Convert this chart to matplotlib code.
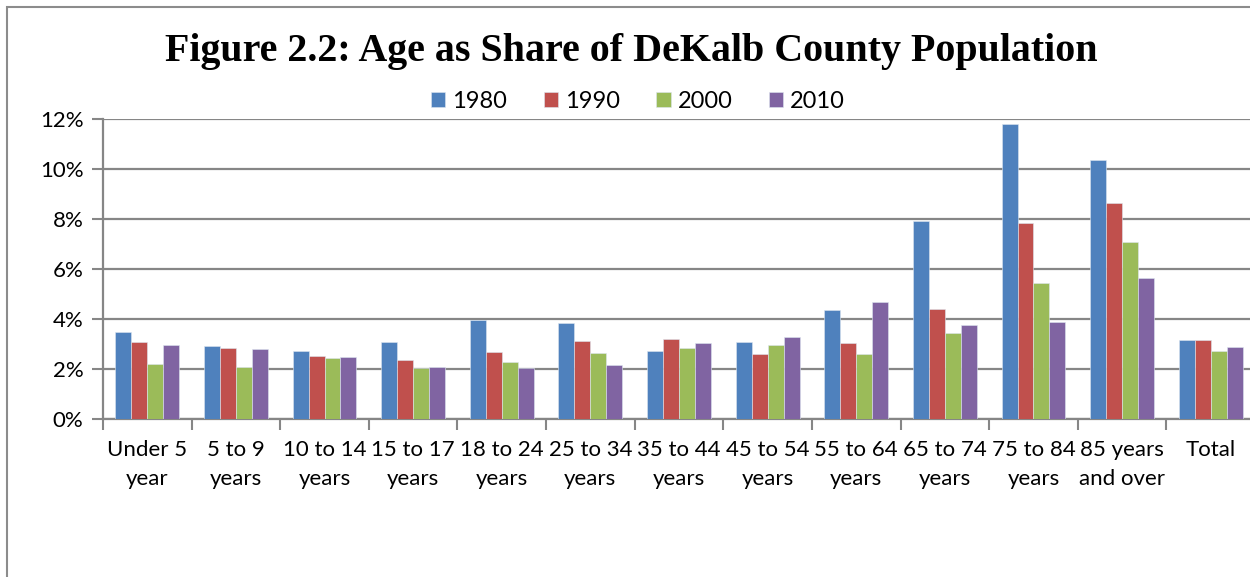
import matplotlib.pyplot as plt
import matplotlib.patches as patches
import numpy as np

categories = ["Under 5\nyear", "5 to 9\nyears", "10 to 14\nyears", "15 to 17\nyears",
              "18 to 24\nyears", "25 to 34\nyears", "35 to 44\nyears", "45 to 54\nyears",
              "55 to 64\nyears", "65 to 74\nyears", "75 to 84\nyears", "85 years\nand over",
              "Total"]
years = ["1980", "1990", "2000", "2010"]
v1980 = [3.47, 2.93, 2.71, 3.07, 3.95, 3.83, 2.71, 3.07, 4.35, 7.92, 11.80, 10.35, 3.16]
v1990 = [3.09, 2.83, 2.52, 2.36, 2.68, 3.11, 3.20, 2.61, 3.03, 4.41, 7.84, 8.63, 3.16]
v2000 = [2.20, 2.08, 2.43, 2.05, 2.27, 2.65, 2.83, 2.96, 2.60, 3.44, 5.43, 7.08, 2.72]
v2010 = [2.97, 2.79, 2.47, 2.07, 2.04, 2.16, 3.05, 3.28, 4.67, 3.75, 3.89, 5.63, 2.88]
colors = ["#4F81BD", "#C0504D", "#9BBB59", "#8064A2"]

W, H = 1250, 577
fig = plt.figure(figsize=(W / 100, H / 100), dpi=100)

# chart border (cut off at right and bottom in the source)
fig.patches.append(patches.Rectangle((7 / W, -0.1), 1.2, 1 - 7 / H + 0.1,
                                     transform=fig.transFigure, fill=False,
                                     edgecolor="#8c8c8c", linewidth=1.5))

ax = fig.add_axes([103 / W, 1 - 419 / H, 1152 / W, 300 / H])

x = np.arange(len(categories))
w = 0.18
for i, (vals, lab) in enumerate(zip([v1980, v1990, v2000, v2010], years)):
    ax.bar(x + (i - 1.5) * w, vals, w, color=colors[i], label=lab,
           edgecolor="#dde6f0", linewidth=0.4, zorder=3)

ax.set_xlim(-0.5, len(categories) - 0.5)
ax.set_ylim(0, 12)
ax.set_yticks(range(0, 13, 2))
ax.set_yticklabels(["{}%".format(t) for t in range(0, 13, 2)])
ax.yaxis.grid(True, color="#868686", linewidth=1.6, zorder=0)
ax.set_xticks(x)
ax.set_xticklabels(categories, linespacing=1.55)
ax.set_xticks(np.arange(-0.5, len(categories)), minor=True)
ax.tick_params(axis="x", which="major", length=0, pad=15)
ax.tick_params(axis="x", which="minor", length=8, width=1.5, color="#868686")
ax.tick_params(axis="y", length=8, width=1.5, color="#868686", pad=6)
for lbl in ax.get_xticklabels() + ax.get_yticklabels():
    lbl.set_fontfamily("Lato")
    lbl.set_fontsize(16)

for s in ["top", "right"]:
    ax.spines[s].set_visible(False)
for s in ["left", "bottom"]:
    ax.spines[s].set_color("#868686")
    ax.spines[s].set_linewidth(1.6)

fig.text(631 / W, 1 - 51 / H, "Figure 2.2: Age as Share of DeKalb County Population",
         ha="center", va="center", fontsize=28.8, fontweight="bold",
         fontfamily="Liberation Serif")

fig.legend(loc="center", bbox_to_anchor=(638 / W, 1 - 101 / H), ncol=4, frameon=False,
           prop={"family": "Lato", "size": 17}, handlelength=0.6, handleheight=0.6,
           handletextpad=0.3, columnspacing=1.55, borderpad=0)

fig.savefig("out.png", dpi=100)
